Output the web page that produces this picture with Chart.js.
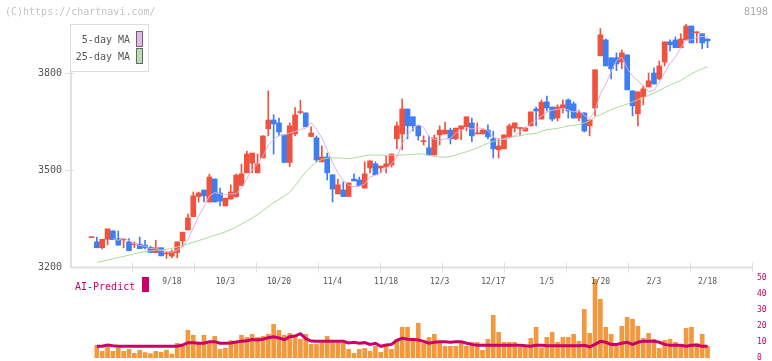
<!DOCTYPE html>
<html>
<head>
<meta charset="utf-8">
<script src="https://cdn.jsdelivr.net/npm/chart.js@4"></script>
<style>
  html, body { margin: 0; padding: 0; background: #fff; }
  #wrap { width: 772px; height: 361px; position: relative; }
</style>
</head>
<body>
<div id="wrap"><canvas id="chart"></canvas></div>
<script>
const opens = [3292,3279,3261,3287,3313,3289,3285,3279,3270,3272,
  3269,3262,3246,3261,3242,3235,3246,3282,3316,3357,
  3419,3439,3402,3473,3430,3390,3411,3418,3453,3492,
  3522,3492,3538,3628,3655,3646,3609,3524,3612,3678,
  3677,3604,3600,3526,3541,3486,3427,3439,3419,3473,
  3470,3445,3507,3520,3507,3510,3516,3597,3612,3689,
  3665,3637,3588,3569,3547,3609,3612,3624,3597,3627,
  3634,3646,3612,3612,3624,3597,3563,3566,3603,3630,
  3629,3621,3637,3689,3658,3711,3695,3661,3692,3717,
  3705,3661,3677,3637,3692,3853,3902,3847,3847,3834,
  3856,3745,3674,3726,3757,3800,3782,3834,3896,3902,
  3878,3902,3945,3924,3921,3905];
const highs = [3294,3294,3287,3319,3313,3313,3287,3289,3279,3294,
  3284,3265,3284,3261,3249,3254,3279,3309,3365,3433,
  3433,3439,3488,3473,3445,3414,3455,3488,3519,3559,
  3553,3550,3606,3745,3671,3661,3609,3646,3693,3716,
  3677,3634,3606,3575,3553,3486,3473,3464,3461,3489,
  3479,3526,3529,3526,3513,3544,3550,3649,3720,3689,
  3665,3637,3606,3606,3609,3637,3649,3630,3630,3637,
  3665,3661,3646,3627,3640,3621,3597,3609,3643,3646,
  3630,3633,3680,3695,3717,3729,3695,3702,3717,3720,
  3711,3686,3677,3655,3810,3937,3905,3847,3862,3871,
  3856,3745,3742,3760,3800,3816,3837,3896,3902,3911,
  3921,3951,3945,3927,3921,3905];
const lows = [3292,3261,3257,3270,3286,3269,3261,3252,3261,3258,
  3257,3246,3246,3236,3228,3230,3230,3264,3316,3357,
  3402,3402,3402,3402,3390,3390,3411,3418,3453,3492,
  3492,3492,3538,3606,3550,3606,3524,3511,3606,3674,
  3634,3604,3526,3526,3470,3402,3427,3419,3419,3467,
  3452,3445,3492,3486,3492,3492,3510,3566,3563,3597,
  3621,3593,3578,3547,3547,3578,3612,3581,3594,3594,
  3621,3588,3612,3612,3597,3538,3538,3566,3603,3618,
  3606,3621,3637,3637,3658,3683,3652,3652,3677,3661,
  3661,3652,3618,3606,3668,3853,3822,3782,3807,3813,
  3748,3668,3637,3702,3757,3766,3779,3822,3868,3878,
  3878,3902,3893,3893,3875,3878];
const closes = [3294,3261,3287,3319,3286,3269,3287,3252,3272,3258,
  3261,3246,3261,3236,3244,3249,3279,3309,3353,3421,
  3430,3421,3479,3402,3405,3414,3433,3485,3489,3550,
  3553,3520,3606,3655,3643,3618,3524,3637,3671,3680,
  3634,3615,3532,3541,3492,3442,3455,3419,3461,3467,
  3452,3489,3529,3486,3513,3520,3550,3637,3689,3637,
  3637,3606,3590,3547,3600,3624,3624,3597,3630,3637,
  3665,3606,3615,3624,3603,3566,3575,3609,3637,3646,
  3630,3630,3680,3683,3710,3692,3658,3695,3702,3683,
  3661,3677,3621,3655,3810,3918,3822,3813,3828,3862,
  3748,3699,3742,3751,3776,3766,3822,3896,3887,3878,
  3905,3945,3893,3927,3893,3899];
const ma5 = [null,null,null,null,3289,3284,3290,3283,3273,3268,
  3266,3258,3260,3252,3250,3247,3254,3263,3287,3322,
  3358,3387,3421,3431,3427,3424,3427,3428,3445,3474,
  3502,3519,3544,3577,3595,3608,3609,3615,3619,3626,
  3629,3647,3626,3600,3563,3524,3492,3470,3454,3449,
  3451,3458,3480,3485,3494,3507,3520,3541,3582,3607,
  3630,3641,3632,3603,3596,3593,3597,3598,3615,3622,
  3631,3627,3631,3629,3623,3603,3597,3595,3598,3607,
  3619,3630,3645,3654,3667,3679,3685,3688,3691,3686,
  3680,3684,3669,3659,3685,3736,3765,3804,3838,3849,
  3815,3790,3776,3760,3743,3747,3771,3802,3829,3850,
  3878,3902,3902,3910,3913,3911];
const ma25 = [null,3216,3219,3223,3227,3231,3234,3238,3242,3246,
  3249,3251,3253,3254,3256,3259,3263,3268,3273,3278,
  3283,3288,3294,3299,3304,3310,3317,3325,3334,3343,
  3353,3363,3375,3388,3400,3410,3420,3432,3452,3474,
  3495,3512,3525,3533,3537,3538,3538,3537,3536,3538,
  3541,3545,3547,3547,3547,3546,3546,3546,3547,3548,
  3549,3550,3550,3546,3542,3541,3540,3542,3547,3552,
  3557,3563,3569,3576,3583,3589,3593,3597,3601,3604,
  3607,3610,3612,3614,3620,3625,3627,3629,3633,3637,
  3639,3641,3646,3653,3665,3671,3679,3687,3693,3699,
  3704,3711,3718,3724,3731,3738,3746,3755,3763,3770,
  3777,3788,3797,3806,3813,3819];
const volumes = [null,7.9,4.2,6.7,4.2,6.3,4.2,5.4,2.9,4.8,
  3.4,2.7,4.2,3.6,4.9,2.5,9.2,7.4,17.3,14.2,
  9.3,14.2,9.3,13.5,5.4,6.2,10.9,9.5,14.2,12.9,
  14.8,12.9,13.5,14.8,21.0,17.3,14.2,15.4,14.2,11.7,
  14.8,8.5,8.5,9.5,13.5,9.5,9.5,9.5,5.4,2.9,
  5.4,6.0,4.2,7.3,3.5,7.3,5.4,11.7,19.2,19.2,
  12.3,21.7,9.2,12.9,14.8,9.2,7.3,7.3,7.3,9.2,
  7.3,9.8,9.8,4.8,11.7,26.7,16.0,9.8,9.8,9.8,
  6.7,6.7,12.3,19.2,6.3,12.9,16.0,9.8,12.9,12.9,
  14.8,10.4,30.4,15.4,49.2,36.7,19.2,14.8,7.3,19.8,
  25.4,24.2,19.8,12.3,15.4,11.7,6.0,11.0,11.7,9.8,
  8.5,18.5,19.2,9.2,14.8,7.3];
const aiPredict = [null,7.3,7.3,8.1,7.6,7.3,7.3,7.3,7.3,7.3,
  7.3,7.3,7.3,7.3,7.3,7.3,7.3,8.1,9.6,9.6,
  9.2,9.2,10.2,10.2,9.2,9.2,9.4,10.0,10.4,10.8,
  11.5,11.2,11.7,12.7,13.3,12.5,11.5,13.3,13.7,15.2,
  12.1,10.6,10.4,10.4,10.4,10.4,10.4,10.4,9.4,9.8,
  9.2,9.6,8.5,9.2,7.3,8.1,8.5,11.0,12.3,11.7,
  11.5,11.2,10.4,9.2,9.8,10.2,10.2,9.8,10.2,10.2,
  9.2,8.5,7.9,7.9,7.9,7.9,7.9,7.9,7.9,7.9,
  7.9,7.6,7.3,8.0,7.9,7.6,7.6,7.6,7.6,7.6,
  7.6,7.6,7.9,7.0,8.5,10.4,9.8,8.5,8.5,9.2,
  9.8,8.5,9.8,10.4,10.4,10.4,9.8,8.5,7.9,7.9,
  7.9,7.3,7.9,7.9,7.3,7.3];

const priceTicks = [3200, 3500, 3800];
const volumeTicks = [0, 10, 20, 30, 40, 50];
const dateLabels = ["9/18", "10/3", "10/20", "11/4", "11/18", "12/3", "12/17", "1/5", "1/20", "2/3", "2/18"];
const dateIndex = [15, 25, 35, 45, 55, 65, 75, 85, 95, 105, 115];

const RED = "#f0523e";
const BLUE = "#3f7ef0";
const MAGENTA = "#cc0066";
const MONO = "'DejaVu Sans Mono', 'Liberation Mono', monospace";

const candleColors = closes.map((c, i) => c >= opens[i] ? RED : BLUE);
const points = arr => arr.map((v, i) => ({ x: i, y: v })).filter(p => p.y !== null);

// fixed axis width, no extra padding from end labels
const fixWidth = w => s => { s.width = w; s.paddingTop = 0; s.paddingBottom = 0; };

// axis lines, ticks, date labels, legend box and header text
const frame = {
    id: "frame",
    beforeDatasetsDraw(chart) {
        const { ctx, chartArea: a, scales: { y } } = chart;
        const base = Math.round(y.getPixelForValue(priceTicks[0])) + 0.5;
        ctx.save();
        ctx.strokeStyle = "#e0e0e0";
        ctx.lineWidth = 2;
        ctx.beginPath();
        ctx.moveTo(a.left + 1, a.top);
        ctx.lineTo(a.left + 1, base);
        ctx.lineTo(a.right, base);
        ctx.stroke();
        ctx.lineWidth = 1;
        ctx.beginPath();
        priceTicks.slice(1).forEach(v => {
            const py = Math.round(y.getPixelForValue(v)) + 0.5;
            ctx.moveTo(a.left - 5, py);
            ctx.lineTo(a.left + 4, py);
        });
        for (let k = 1; k <= 11; k++) {
            const px = Math.round(a.left + k * (a.right - a.left) / 11) + 0.5;
            ctx.moveTo(px, base - 5);
            ctx.lineTo(px, base + 5);
        }
        ctx.stroke();
        ctx.restore();
    },
    afterDatasetsDraw(chart) {
        const { ctx, chartArea: a, scales: { x } } = chart;
        ctx.save();
        ctx.textBaseline = "middle";

        ctx.font = "8px " + MONO;
        ctx.fillStyle = "#555";
        ctx.textAlign = "center";
        dateLabels.forEach((t, k) => ctx.fillText(t, x.getPixelForValue(dateIndex[k]), 282));

        ctx.font = "10px " + MONO;
        ctx.textAlign = "left";
        ctx.fillStyle = MAGENTA;
        ctx.fillText("AI-Predict", 75, 287);
        ctx.fillRect(142, 277, 7, 15);

        ctx.fillStyle = "#c4c4c4";
        ctx.fillText("(C)https://chartnavi.com/", 5, 12);
        ctx.textAlign = "right";
        ctx.fillStyle = "#aaa";
        ctx.fillText("8198", 768, 12);

        // legend box
        ctx.fillStyle = "#fff";
        ctx.strokeStyle = "#ddd";
        ctx.lineWidth = 1;
        ctx.fillRect(a.left, a.top, 78, 48);
        ctx.strokeRect(a.left + 0.5, a.top + 0.5, 78, 47);
        ctx.fillStyle = "#555";
        ctx.fillText("5-day MA", 130, 40);
        ctx.fillText("25-day MA", 130, 57);
        ctx.strokeStyle = "#666";
        ctx.fillStyle = "#e8b6e8";
        ctx.fillRect(136, 31, 6, 15);
        ctx.strokeRect(136.5, 31.5, 6, 15);
        ctx.fillStyle = "#b8dcae";
        ctx.fillRect(136, 48, 6, 15);
        ctx.strokeRect(136.5, 48.5, 6, 15);
        ctx.restore();
    }
};

new Chart(document.getElementById("chart"), {
    data: {
        datasets: [
            {
                type: "bar", label: "Volume", data: points(volumes), yAxisID: "yv",
                backgroundColor: "#f2983e", barThickness: 4, grouped: false, order: 5
            },
            {
                type: "line", label: "AI-Predict", data: points(aiPredict), yAxisID: "yv",
                borderColor: MAGENTA, borderWidth: 3, pointRadius: 0, order: 4
            },
            {
                type: "bar", label: "Wick", data: lows.map((l, i) => ({ x: i, y: [l, highs[i]] })), yAxisID: "y",
                backgroundColor: candleColors, barThickness: 1, grouped: false, order: 3
            },
            {
                type: "bar", label: "Body", data: opens.map((o, i) => ({ x: i, y: [o, closes[i]] })), yAxisID: "y",
                backgroundColor: candleColors, barThickness: 5, minBarLength: 1, grouped: false, order: 2
            },
            {
                type: "line", label: "5-day MA", data: points(ma5), yAxisID: "y",
                borderColor: "#e2aee2", borderWidth: 1, pointRadius: 0, order: 1
            },
            {
                type: "line", label: "25-day MA", data: points(ma25), yAxisID: "y",
                borderColor: "#acd89e", borderWidth: 1, pointRadius: 0, order: 1
            }
        ]
    },
    options: {
        responsive: true,
        maintainAspectRatio: false,
        animation: false,
        layout: { autoPadding: false, padding: { top: 24, bottom: 3, left: 0, right: 0 } },
        plugins: { legend: { display: false }, tooltip: { enabled: false } },
        scales: {
            x: { type: "linear", display: false, offset: false, min: -4.013, max: 123.3 },
            y: {
                position: "left", min: 2920.8, max: 3951.2,
                grid: { display: false, drawTicks: false }, border: { display: false },
                ticks: { color: "#555", padding: 8, font: { family: MONO, size: 10 }, callback: v => String(v) },
                afterBuildTicks: s => { s.ticks = priceTicks.map(v => ({ value: v })); },
                afterFit: fixWidth(70)
            },
            yv: {
                position: "right", min: 0, max: 208.75,
                grid: { display: false, drawTicks: false }, border: { display: false },
                ticks: { color: MAGENTA, padding: 5, font: { family: MONO, size: 8 }, callback: v => String(v) },
                afterBuildTicks: s => { s.ticks = volumeTicks.map(v => ({ value: v })); },
                afterFit: fixWidth(20)
            }
        }
    },
    plugins: [frame]
});
</script>
</body>
</html>
